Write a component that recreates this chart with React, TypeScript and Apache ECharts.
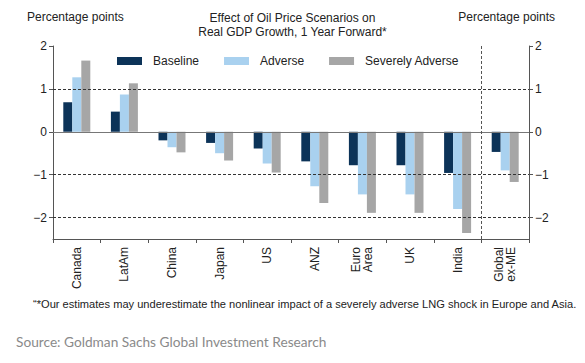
import React, { useEffect, useRef } from "react";
import * as echarts from "echarts";

const categories = ["Canada", "LatAm", "China", "Japan", "US", "ANZ", "Euro\nArea", "UK", "India", "Global\nex-ME"];
const baseline = [0.69, 0.47, -0.2, -0.26, -0.39, -0.69, -0.78, -0.78, -0.96, -0.47];
const adverse = [1.27, 0.87, -0.36, -0.5, -0.74, -1.27, -1.46, -1.46, -1.8, -0.9];
const severelyAdverse = [1.66, 1.13, -0.48, -0.67, -0.95, -1.66, -1.89, -1.89, -2.36, -1.17];
const seriesNames = ["Baseline", "Adverse", "Severely Adverse"];
const colors = ["#0c3358", "#a9d1ef", "#a6a6a6"];
const yTicks = [-2, -1, 0, 1, 2];
const dashedGrid = [1, -1, -2];
const separatorAt = 9;

const titleText = "Effect of Oil Price Scenarios on\nReal GDP Growth, 1 Year Forward*";
const unitText = "Percentage points";
const footnote = "\u201C*Our estimates may underestimate the nonlinear impact of a severely adverse LNG shock in Europe and Asia.";
const sourceText = "Source: Goldman Sachs Global Investment Research";

const FONT = "'Liberation Sans', Arial, sans-serif";

const fmt = (v: number) => {
  if (Math.abs(v - Math.round(v)) > 1e-9) return "";
  return v < 0 ? "\u2212" + Math.abs(v) : String(v);
};

function makeYAxis(position: "left" | "right") {
  return {
    type: "value",
    position,
    min: -2.5,
    max: 2,
    interval: 0.5,
    axisLine: { show: true, lineStyle: { color: "#555", width: 1 } },
    axisTick: { show: true, length: 4, customValues: yTicks, lineStyle: { color: "#555" } },
    axisLabel: {
      customValues: yTicks,
      formatter: fmt,
      color: "#222",
      fontSize: 12,
      fontFamily: FONT,
      margin: 6,
    },
    splitLine: { show: false },
  };
}

export default function App() {
  const ref = useRef<HTMLDivElement>(null);
  useEffect(() => {
    if (!ref.current) return;
    const chart = echarts.init(ref.current, undefined, { renderer: "svg" });
    const data = [baseline, adverse, severelyAdverse];
    const option: any = {
      animation: false,
      backgroundColor: "#fff",
      title: {
        text: titleText,
        left: "center",
        top: 11,
        padding: 0,
        textStyle: { fontSize: 12, fontWeight: "normal", color: "#222", fontFamily: FONT, lineHeight: 14 },
      },
      legend: {
        data: seriesNames,
        top: 55,
        left: 117,
        padding: 0,
        itemWidth: 25,
        itemHeight: 8,
        itemGap: 25,
        icon: "rect",
        textStyle: { fontSize: 12, color: "#222", fontFamily: FONT, padding: [0, 0, 0, 6] },
      },
      grid: { left: 53, right: 56, top: 46, bottom: 124, containLabel: false },
      xAxis: [
        {
          type: "category",
          data: categories,
          axisLine: { show: true, onZero: false, lineStyle: { color: "#555" } },
          axisTick: { show: true, length: 4, lineStyle: { color: "#555" } },
          axisLabel: {
            rotate: 90,
            interval: 0,
            margin: 8,
            fontSize: 12,
            color: "#222",
            fontFamily: FONT,
            lineHeight: 12,
          },
        },
        { type: "value", min: 0, max: categories.length, show: false },
      ],
      yAxis: [makeYAxis("left"), makeYAxis("right")],
      series: [
        ...data.map((d, i) => ({
          name: seriesNames[i],
          type: "bar",
          data: d,
          barWidth: 9,
          barGap: "0%",
          itemStyle: { color: colors[i] },
          z: 2,
          ...(i === 0
            ? {
                markLine: {
                  silent: true,
                  symbol: "none",
                  label: { show: false },
                  z: 5,
                  data: [
                    ...dashedGrid.map((v) => ({ yAxis: v, lineStyle: { color: "#333", type: [3, 2], width: 1 } })),
                    { yAxis: 0, lineStyle: { color: "#777", type: "solid", width: 1 } },
                  ],
                },
              }
            : {}),
        })),
        {
          type: "line",
          xAxisIndex: 1,
          yAxisIndex: 0,
          data: [[separatorAt, 0]],
          showSymbol: false,
          symbol: "none",
          lineStyle: { opacity: 0 },
          silent: true,
          markLine: {
            silent: true,
            symbol: "none",
            label: { show: false },
            data: [{ xAxis: separatorAt }],
            lineStyle: { color: "#555", type: [3, 2], width: 1 },
          },
        },
      ],
      graphic: [
        { type: "text", left: 27, top: 11, style: { text: unitText, fill: "#222", font: "12px " + FONT } },
        { type: "text", right: 30, top: 11, style: { text: unitText, fill: "#222", font: "12px " + FONT } },
        { type: "text", left: 33, top: 298, style: { text: footnote, fill: "#222", font: "11.1px " + FONT } },
        { type: "text", left: 16, top: 334, style: { text: sourceText, fill: "#8a8a8a", font: "13.7px Lato, sans-serif" } },
      ],
    };
    chart.setOption(option);
    return () => chart.dispose();
  }, []);
  return (
    <div
      ref={ref}
      style={{ position: "fixed", left: 0, top: 0, width: 585, height: 363, background: "#fff" }}
    />
  );
}
